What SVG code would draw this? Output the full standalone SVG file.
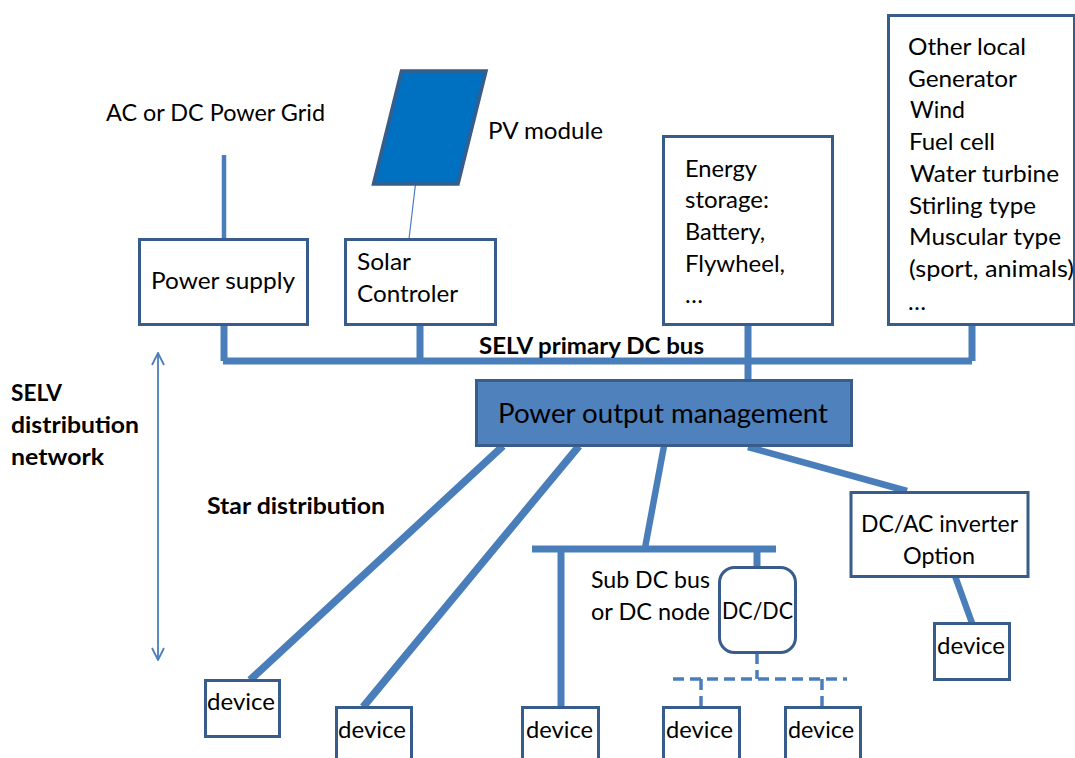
<svg xmlns="http://www.w3.org/2000/svg" width="1075" height="758" viewBox="0 0 1075 758">
<style>
text{font-family:"Lato","Liberation Sans",sans-serif;font-size:24px;fill:#000}
.b{font-weight:700;font-size:23px}
.box{fill:#fff;stroke:#385d8a;stroke-width:3}
.w{fill:none;stroke:#4a7ebb}
.t8{stroke-width:7.500}.t7{stroke-width:7}.t6{stroke-width:6.500}.t4{stroke-width:4.500}
.d{stroke-width:3.500;stroke-dasharray:11 6}
</style>
<defs>
<marker id="open" viewBox="0 0 14 14" refX="13" refY="7" markerWidth="14" markerHeight="14" markerUnits="userSpaceOnUse" orient="auto-start-reverse">
<path d="M1 1L13 7L1 13" fill="none" stroke="#4a7ebb" stroke-width="1.800"/>
</marker>
</defs>
<g id="connectors">
<path class="w t4" d="M224 155V239"/>
<path class="w" stroke-width="1.200" d="M415.500 184L409 239"/>
<path class="w t7" d="M224 324V361M420 324V361M748 324V380M972 324V361M223 361H972"/>
<path class="w t8" d="M503 446L250 680M579 446L363 707"/>
<path class="w t7" d="M532 549H776M561 549V707M757 549V567"/>
<path class="w t6" d="M664 446L645 548M748 447L907 491M955 576L972 623"/>
<path class="w d" d="M757 653V679M673 679H847M701 679V707M822 679V707"/>
<path class="w" stroke-width="1.800" marker-start="url(#open)" marker-end="url(#open)" d="M158 353V660"/>
</g>
<g id="grid-label"><text x="106" y="121" textLength="219" lengthAdjust="spacingAndGlyphs">AC or DC Power Grid</text></g>
<g id="pv-module"><polygon points="401.500,71 486,71 458,184 373.500,184" fill="#0070c0" stroke="#385d8a" stroke-width="3.500"/><text x="488" y="139" textLength="115" lengthAdjust="spacingAndGlyphs">PV module</text></g>
<g id="power-supply"><rect class="box" x="139.500" y="239.500" width="168" height="85"/><text x="151" y="289" textLength="144" lengthAdjust="spacingAndGlyphs">Power supply</text></g>
<g id="solar-controler"><rect class="box" x="345.500" y="239.500" width="150" height="85"/><text x="357" y="270" textLength="54" lengthAdjust="spacingAndGlyphs">Solar</text><text x="357" y="302" textLength="101" lengthAdjust="spacingAndGlyphs">Controler</text></g>
<g id="energy-storage"><rect class="box" x="663.500" y="136.500" width="169" height="188"/>
<text x="685" y="177" textLength="72" lengthAdjust="spacingAndGlyphs">Energy</text><text x="685" y="208" textLength="84" lengthAdjust="spacingAndGlyphs">storage:</text><text x="685" y="240" textLength="80" lengthAdjust="spacingAndGlyphs">Battery,</text><text x="685" y="272" textLength="100" lengthAdjust="spacingAndGlyphs">Flywheel,</text><text x="685" y="303">…</text></g>
<g id="other-generator"><rect class="box" x="888.500" y="15.500" width="186" height="309"/>
<text x="908" y="55" textLength="118" lengthAdjust="spacingAndGlyphs">Other local</text><text x="908" y="87" textLength="109" lengthAdjust="spacingAndGlyphs">Generator</text><text x="910" y="118" textLength="55" lengthAdjust="spacingAndGlyphs">Wind</text><text x="909" y="150" textLength="86" lengthAdjust="spacingAndGlyphs">Fuel cell</text><text x="910" y="182" textLength="149" lengthAdjust="spacingAndGlyphs">Water turbine</text><text x="909" y="214" textLength="127" lengthAdjust="spacingAndGlyphs">Stirling type</text><text x="909" y="245" textLength="152" lengthAdjust="spacingAndGlyphs">Muscular type</text><text x="909" y="277" textLength="165" lengthAdjust="spacingAndGlyphs">(sport, animals)</text><text x="908" y="310">…</text></g>
<g id="bus-label"><text class="b" x="479" y="354" textLength="225" lengthAdjust="spacingAndGlyphs">SELV primary DC bus</text></g>
<g id="power-output-management"><rect x="476.500" y="380.500" width="375" height="65" fill="#4f81bd" stroke="#385d8a" stroke-width="3"/><text x="498" y="423" style="font-size:26px" textLength="330" lengthAdjust="spacingAndGlyphs">Power output management</text></g>
<g id="selv-label"><text class="b" x="11" y="401" textLength="51" lengthAdjust="spacingAndGlyphs">SELV</text><text class="b" x="11" y="433" textLength="128" lengthAdjust="spacingAndGlyphs">distribution</text><text class="b" x="11" y="465" textLength="93" lengthAdjust="spacingAndGlyphs">network</text></g>
<g id="star-label"><text class="b" x="207" y="514" textLength="178" lengthAdjust="spacingAndGlyphs">Star distribution</text></g>
<g id="sub-bus-label"><text x="591" y="588" textLength="119" lengthAdjust="spacingAndGlyphs">Sub DC bus</text><text x="591" y="620" textLength="119" lengthAdjust="spacingAndGlyphs">or DC node</text></g>
<g id="dc-dc"><rect class="box" x="719.500" y="567.500" width="76" height="85" rx="15"/><text x="722" y="619" textLength="71" lengthAdjust="spacingAndGlyphs">DC/DC</text></g>
<g id="inverter"><rect class="box" x="851" y="492.500" width="177" height="84"/><text x="861" y="532" textLength="157" lengthAdjust="spacingAndGlyphs">DC/AC inverter</text><text x="903" y="564" textLength="72" lengthAdjust="spacingAndGlyphs">Option</text></g>
<g id="device-1"><rect class="box" x="205.500" y="680.500" width="74" height="56"/><text x="207" y="710" textLength="68" lengthAdjust="spacingAndGlyphs">device</text></g>
<g id="device-2"><rect class="box" x="336.500" y="707.500" width="75" height="56"/><text x="338" y="738" textLength="68" lengthAdjust="spacingAndGlyphs">device</text></g>
<g id="device-3"><rect class="box" x="522.500" y="707.500" width="76" height="56"/><text x="526" y="738" textLength="67" lengthAdjust="spacingAndGlyphs">device</text></g>
<g id="device-4"><rect class="box" x="663.500" y="707.500" width="76" height="56"/><text x="666" y="738" textLength="67" lengthAdjust="spacingAndGlyphs">device</text></g>
<g id="device-5"><rect class="box" x="785.500" y="707.500" width="75" height="56"/><text x="788" y="738" textLength="66" lengthAdjust="spacingAndGlyphs">device</text></g>
<g id="device-6"><rect class="box" x="934.500" y="623.500" width="75" height="56"/><text x="937" y="654" textLength="68" lengthAdjust="spacingAndGlyphs">device</text></g>
</svg>
